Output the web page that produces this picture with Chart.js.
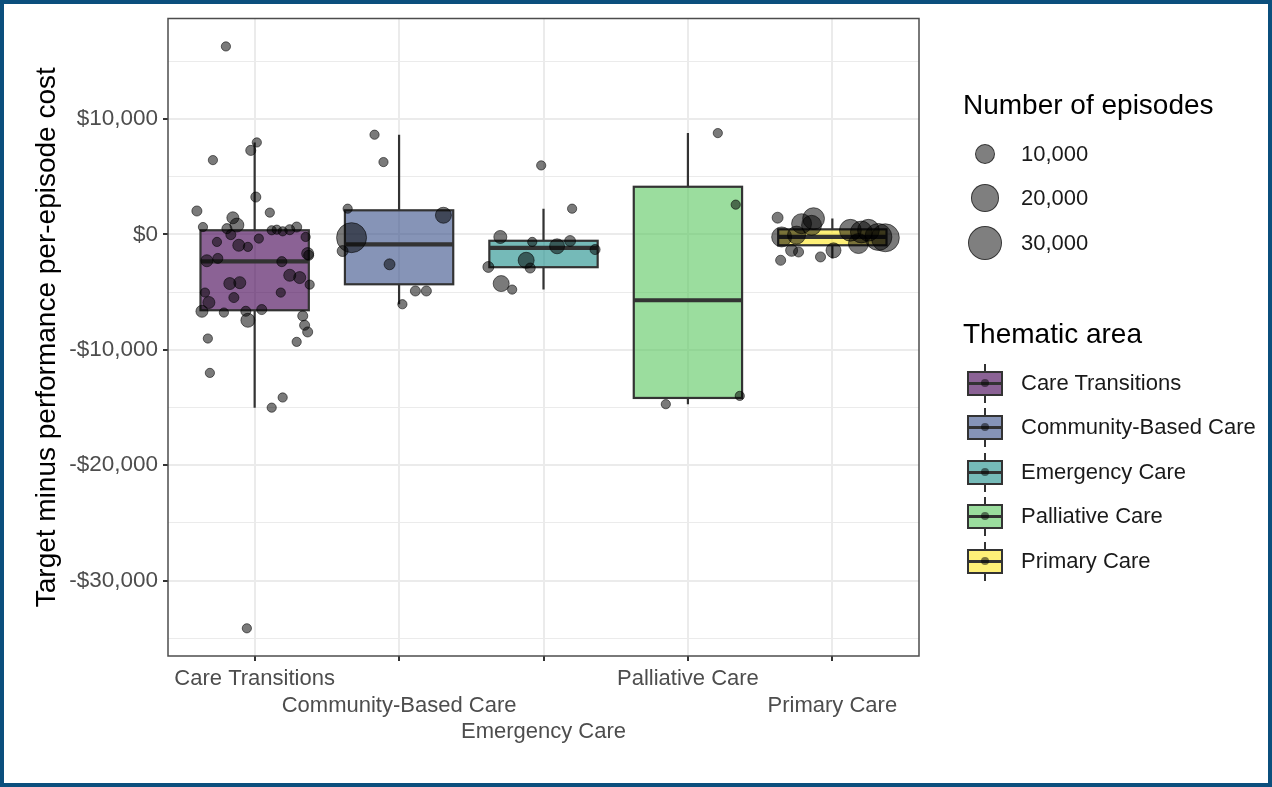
<!DOCTYPE html>
<html>
<head>
<meta charset="utf-8">
<title>Target minus performance per-episode cost</title>
<script src="https://cdn.jsdelivr.net/npm/chart.js@4.4.1/dist/chart.umd.min.js"></script>
<style>
  body { margin: 0; background: #fff; font-family: "Liberation Sans", Arial, sans-serif; }
  #wrap { position: relative; width: 1272px; height: 787px; overflow: hidden; }
  #chart { position: absolute; left: 0; top: 0; }
  #frame { position: absolute; left: 0; top: 0; width: 1272px; height: 787px; box-sizing: border-box;
           border: 4px solid #0b4f7d; pointer-events: none; }
  .lg-title { position: absolute; left: 963px; font-size: 28px; line-height: 34px; color: #000; white-space: nowrap; }
  .lg-label { position: absolute; left: 1021px; font-size: 22px; line-height: 26px; color: #1a1a1a; white-space: nowrap; }
  .lg-dot { position: absolute; border-radius: 50%; background: rgba(0,0,0,0.5); border: 1px solid rgba(0,0,0,0.6); box-sizing: border-box; }
  .key { position: absolute; left: 967px; width: 36px; height: 25px; }
  .key .box { position: absolute; left: 0; top: 0; width: 36px; height: 25px; box-sizing: border-box; border: 2px solid #333; }
  .key .med { position: absolute; left: 0; width: 36px; top: 11px; height: 3px; background: #333; }
  .key .wt { position: absolute; left: 17px; width: 2px; top: -7px; height: 7px; background: #333; }
  .key .wb { position: absolute; left: 17px; width: 2px; top: 25px; height: 7px; background: #333; }
  .key .pt { position: absolute; left: 14px; top: 8.5px; width: 8px; height: 8px; border-radius: 50%; background: rgba(0,0,0,0.5); }
</style>
</head>
<body>
<div id="wrap">
  <canvas id="chart" width="1272" height="787"></canvas>
  <div id="legend"></div>
  <div id="frame"></div>
</div>
<script>
// Categories and box statistics
const categories = ['Care Transitions', 'Community-Based Care', 'Emergency Care', 'Palliative Care', 'Primary Care'];
const boxColors = ['#440154', '#3B528B', '#21908C', '#5DC863', '#FDE725'];
const whiskerLow = [-15020, -6060, -4790, -14720, -2100];
const q1 = [-6580, -4330, -2850, -14180, -950];
const median = [-2340, -870, -1180, -5715, -230];
const q3 = [350, 2080, -560, 4120, 430];
const whiskerHigh = [7960, 8630, 2220, 8770, 1360];

// Jittered episodes: x position on the category axis, cost difference, number of episodes
const ctX = [0.801, 1.015, 0.973, 0.711, 1.008, 0.600, 1.105, 0.849, 0.877, 0.642,
             0.808, 0.835, 1.118, 1.153, 1.194, 1.243, 1.291, 1.353, 0.739, 0.890,
             0.953, 1.029, 1.367, 1.374, 0.669, 0.745, 1.188, 0.828, 0.897, 1.243,
             1.312, 1.381, 0.656, 0.683, 0.856, 1.181, 0.635, 0.787, 0.939, 1.049,
             0.953, 1.333, 1.346, 1.367, 0.676, 1.291, 0.690, 1.194, 1.118, 0.946];
const ctY = [16280, 7960, 7270, 6430, 3230, 2020, 1880, 1430, 800, 630,
             490, -30, 350, 400, 260, 400, 630, -230, -660, -950,
             -1090, -370, -1670, -1820, -2290, -2090, -2370, -4270, -4190, -3550,
             -3750, -4360, -5050, -5910, -5480, -5050, -6670, -6780, -6670, -6520,
             -7450, -7070, -7880, -8460, -9030, -9320, -12010, -14140, -15020, -34140];
const ctN = [150, 150, 600, 150, 600, 600, 150, 1800, 3200, 150,
             600, 600, 150, 150, 150, 600, 600, 150, 150, 1800,
             150, 150, 1800, 600, 1800, 600, 600, 1800, 1800, 1800,
             1800, 150, 150, 1800, 600, 150, 1800, 150, 600, 600,
             3200, 600, 600, 600, 150, 150, 150, 150, 150, 150];

const cbX = [1.830, 1.892, 1.644, 1.671, 1.609, 2.307, 1.934, 2.113, 2.189, 2.023];
const cbY = [8630, 6260, 2220, -290, -1450, 1650, -2600, -4910, -4910, -6060];
const cbN = [150, 150, 150, 22800, 1100, 4900, 1100, 600, 600, 150];

const ecX = [2.984, 3.198, 2.701, 2.618, 2.707, 2.783, 2.922, 3.094, 3.184, 3.357, 2.880, 2.908];
const ecY = [5970, 2220, -230, -2830, -4270, -4790, -660, -1040, -580, -1320, -2250, -2920];
const ecN = [150, 150, 2500, 1100, 4900, 150, 150, 4000, 1100, 600, 4900, 600];

const pcX = [4.207, 4.331, 3.847, 4.359];
const pcY = [8770, 2570, -14720, -14000];
const pcN = [150, 150, 150, 150];

const prX = [4.621, 4.649, 4.787, 4.870, 4.856, 4.752, 4.718, 4.766, 4.642,
             4.918, 5.008, 5.125, 5.181, 5.250, 5.319, 5.201, 5.367];
const prY = [1440, -230, 920, 1360, 780, -70, -1390, -1530, -2250,
             -1960, -1390, 350, -800, 350, -230, 200, -300];
const prN = [1100, 8900, 8900, 11000, 8900, 6800, 1800, 600, 600,
             600, 4000, 11000, 8900, 11000, 18000, 11000, 19500];

const yTicks = [-35000, -30000, -25000, -20000, -15000, -10000, -5000, 0, 5000, 10000, 15000];
const sizeBreaks = [10000, 20000, 30000];

const boxWidth = 0.75;

// size scale: area grows with the number of episodes
function radius(n) {
    return Math.sqrt(20 + 9 * n / 1000);
}

function money(v) {
    const s = '$' + Math.abs(v).toLocaleString('en-US');
    return v < 0 ? '-' + s : s;
}

function rgba(hex, a) {
    const n = parseInt(hex.slice(1), 16);
    return `rgba(${(n >> 16) & 255},${(n >> 8) & 255},${n & 255},${a})`;
}

function points(xs, ys, ns) {
    return xs.map((x, i) => ({ x: x, y: ys[i], r: radius(ns[i]) }));
}

// Boxplots drawn under the points, through the chart's scales
const boxPlugin = {
    id: 'boxes',
    beforeDatasetsDraw(chart) {
        const { ctx, scales: { x, y } } = chart;
        ctx.save();
        categories.forEach((c, i) => {
            const cx = x.getPixelForValue(i + 1);
            const left = x.getPixelForValue(i + 1 - boxWidth / 2);
            const right = x.getPixelForValue(i + 1 + boxWidth / 2);
            const top = y.getPixelForValue(q3[i]);
            const bottom = y.getPixelForValue(q1[i]);
            ctx.strokeStyle = '#333333';
            ctx.lineWidth = 2.2;
            // whiskers
            ctx.beginPath();
            ctx.moveTo(cx, y.getPixelForValue(whiskerHigh[i]));
            ctx.lineTo(cx, top);
            ctx.moveTo(cx, bottom);
            ctx.lineTo(cx, y.getPixelForValue(whiskerLow[i]));
            ctx.stroke();
            // box
            ctx.fillStyle = rgba(boxColors[i], 0.62);
            ctx.fillRect(left, top, right - left, bottom - top);
            ctx.strokeRect(left, top, right - left, bottom - top);
            // median
            ctx.lineWidth = 4.2;
            ctx.beginPath();
            ctx.moveTo(left, y.getPixelForValue(median[i]));
            ctx.lineTo(right, y.getPixelForValue(median[i]));
            ctx.stroke();
        });
        ctx.restore();
    },
    afterDraw(chart) {
        const { ctx, chartArea: a } = chart;
        ctx.save();
        ctx.strokeStyle = '#4d4d4d';
        ctx.lineWidth = 1.5;
        ctx.strokeRect(a.left, a.top, a.right - a.left, a.bottom - a.top);
        ctx.restore();
    }
};

Chart.defaults.font.family = '"Liberation Sans", Arial, sans-serif';

const pointStyle = {
    backgroundColor: 'rgba(0,0,0,0.52)',
    borderColor: 'rgba(0,0,0,0.55)',
    borderWidth: 1,
    hoverRadius: 0
};

new Chart(document.getElementById('chart'), {
    type: 'bubble',
    data: {
        datasets: [
            Object.assign({ label: categories[0], data: points(ctX, ctY, ctN) }, pointStyle),
            Object.assign({ label: categories[1], data: points(cbX, cbY, cbN) }, pointStyle),
            Object.assign({ label: categories[2], data: points(ecX, ecY, ecN) }, pointStyle),
            Object.assign({ label: categories[3], data: points(pcX, pcY, pcN) }, pointStyle),
            Object.assign({ label: categories[4], data: points(prX, prY, prN) }, pointStyle)
        ]
    },
    options: {
        responsive: false,
        animation: false,
        layout: { padding: { left: 0, top: 18, right: 353, bottom: 0 } },
        plugins: { legend: { display: false }, tooltip: { enabled: false } },
        scales: {
            x: {
                type: 'linear',
                min: 0.4,
                max: 5.6,
                afterBuildTicks: (scale) => {
                    scale.ticks = categories.map((c, i) => ({ value: i + 1 }));
                },
                afterFit: (scale) => { scale.height = 131; },
                border: { display: false },
                grid: { color: '#ebebeb', lineWidth: 2, tickColor: '#333333', tickLength: 5 },
                ticks: {
                    autoSkip: false,
                    maxRotation: 0,
                    minRotation: 0,
                    padding: 5,
                    color: '#4d4d4d',
                    font: { size: 22, lineHeight: 1.2 },
                    callback: (value) => {
                        const i = Math.round(value) - 1;
                        const lines = [];
                        for (let k = 0; k < i % 3; k++) lines.push('');
                        lines.push(categories[i]);
                        return lines;
                    }
                }
            },
            y: {
                type: 'linear',
                min: -36540,
                max: 18700,
                afterBuildTicks: (scale) => {
                    scale.ticks = yTicks.map(v => ({ value: v }));
                },
                afterFit: (scale) => { scale.width = 168; },
                border: { display: false },
                grid: {
                    color: '#ebebeb',
                    lineWidth: (c) => (c.tick && c.tick.value % 10000 === 0 ? 2 : 1),
                    tickColor: (c) => (c.tick && c.tick.value % 10000 === 0 ? '#333333' : 'rgba(0,0,0,0)'),
                    tickLength: 5
                },
                ticks: {
                    padding: 5,
                    color: '#4d4d4d',
                    font: { size: 22.5 },
                    callback: (value) => (value % 10000 === 0 ? money(value) : '')
                },
                title: {
                    display: true,
                    text: 'Target minus performance per-episode cost',
                    color: '#000',
                    font: { size: 28 },
                    padding: { top: 30, bottom: 0 }
                }
            }
        }
    },
    plugins: [boxPlugin]
});

// Legends
const legend = document.getElementById('legend');
function add(html) { legend.insertAdjacentHTML('beforeend', html); }

add('<div class="lg-title" style="top:88px">Number of episodes</div>');
const sizeRows = [154, 198, 243];
sizeBreaks.forEach((b, i) => {
    const d = radius(b) * 2;
    add(`<div class="lg-dot" style="left:${985 - d / 2}px;top:${sizeRows[i] - d / 2}px;width:${d}px;height:${d}px"></div>`);
    add(`<div class="lg-label" style="top:${sizeRows[i] - 13}px">${b.toLocaleString('en-US')}</div>`);
});

add('<div class="lg-title" style="top:317px">Thematic area</div>');
const areaRows = [383, 427, 472, 516, 561];
categories.forEach((c, i) => {
    add(`<div class="key" style="top:${areaRows[i] - 12.5}px">
           <div class="wt"></div><div class="wb"></div>
           <div class="box" style="background:${rgba(boxColors[i], 0.62)}"></div>
           <div class="med"></div><div class="pt"></div>
         </div>`);
    add(`<div class="lg-label" style="top:${areaRows[i] - 13}px">${c}</div>`);
});
</script>
</body>
</html>
